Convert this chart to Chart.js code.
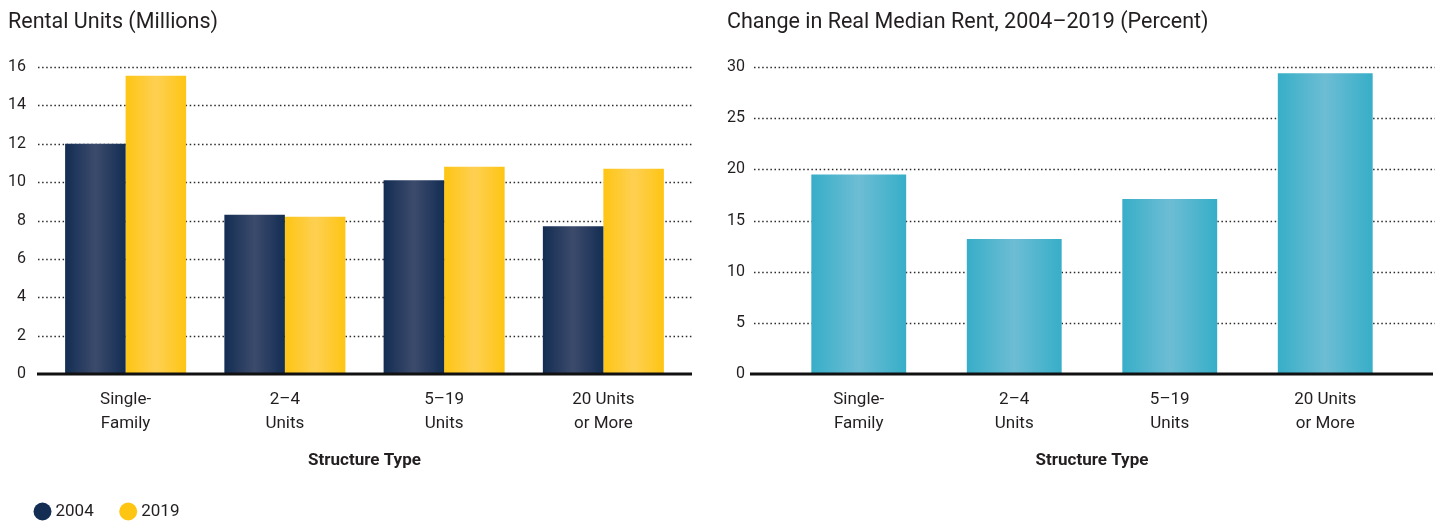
<!DOCTYPE html>
<html>
<head>
<meta charset="utf-8">
<title>Rental Units and Real Median Rent by Structure Type</title>
<script src="https://cdn.jsdelivr.net/npm/chart.js@4.4.1/dist/chart.umd.min.js"></script>
<style>
  body { margin: 0; background: #fff; width: 1443px; height: 521px; overflow: hidden; position: relative; }
  .panel { position: absolute; top: 0; height: 530px; }
  #leftPanel { left: 0; width: 720px; }
  #rightPanel { left: 720px; width: 723px; }
</style>
</head>
<body>
<div class="panel" id="leftPanel"><canvas id="unitsCanvas"></canvas></div>
<div class="panel" id="rightPanel"><canvas id="rentCanvas"></canvas></div>
<script>
// chart data
const structureTypes = [['Single-', 'Family'], ['2–4', 'Units'], ['5–19', 'Units'], ['20 Units', 'or More']];
const seriesNames = ['2004', '2019'];
const units2004 = [12.0, 8.3, 10.1, 7.7];
const units2019 = [15.55, 8.2, 10.8, 10.7];
const rentChange = [19.5, 13.2, 17.1, 29.4];
const unitsTicks = [0, 2, 4, 6, 8, 10, 12, 14, 16];
const rentTicks = [0, 5, 10, 15, 20, 25, 30];

const FONT = 'Roboto, "Noto Sans", sans-serif';
const TEXT = '#231f20';
const LEGEND_PAD = 30;
const LEGEND_FONT = 17;

// bars have a soft highlight down the middle
function sheen(edge, mid) {
  return function(context) {
    const el = context.element;
    if (!el || el.x === undefined || !el.width) return edge;
    const g = context.chart.ctx.createLinearGradient(el.x - el.width / 2, 0, el.x + el.width / 2, 0);
    g.addColorStop(0, edge);
    g.addColorStop(0.5, mid);
    g.addColorStop(1, edge);
    return g;
  };
}

// dotted gridlines that run a little past the bars, plus a heavy zero line
const dottedGrid = {
  id: 'dottedGrid',
  beforeDatasetsDraw(chart, args, opts) {
    const { ctx, chartArea, scales: { y } } = chart;
    ctx.save();
    ctx.strokeStyle = '#2a2a2a';
    ctx.lineWidth = 1.5;
    ctx.setLineDash([1.5, 2.6]);
    y.ticks.forEach(t => {
      if (t.value === 0) return;
      const py = Math.round(y.getPixelForValue(t.value)) + 0.5;
      ctx.beginPath();
      ctx.moveTo(chartArea.left - opts.left, py);
      ctx.lineTo(chartArea.right + opts.right, py);
      ctx.stroke();
    });
    ctx.restore();
  },
  afterDatasetsDraw(chart, args, opts) {
    const { ctx, chartArea, scales: { y } } = chart;
    const py = y.getPixelForValue(0);
    ctx.save();
    ctx.strokeStyle = '#111';
    ctx.lineWidth = 3;
    ctx.beginPath();
    ctx.moveTo(chartArea.left - opts.baseLeft, py);
    ctx.lineTo(chartArea.right + opts.baseRight, py);
    ctx.stroke();
    ctx.restore();
  }
};

function xAxis() {
  return {
    grid: { display: false, drawTicks: false, tickLength: 0 },
    border: { display: false },
    ticks: {
      color: TEXT,
      padding: 14,
      maxRotation: 0,
      autoSkip: false,
      font: { family: FONT, size: 17, lineHeight: '24px' }
    },
    title: {
      display: true,
      text: 'Structure Type',
      color: TEXT,
      padding: { top: 0.8, bottom: 1.8 },
      font: { family: FONT, size: 17, weight: 'bold', lineHeight: 1.2 }
    }
  };
}

function yAxis(tickValues, width, pad) {
  return {
    min: tickValues[0],
    max: tickValues[tickValues.length - 1],
    grid: { display: false, drawTicks: false, tickLength: 0 },
    border: { display: false },
    afterBuildTicks(scale) { scale.ticks = tickValues.map(v => ({ value: v })); },
    afterFit(scale) { scale.width = width; },
    ticks: {
      color: TEXT,
      padding: pad,
      font: { family: FONT, size: 16, lineHeight: 1.2 }
    }
  };
}

function chartTitle(text) {
  return {
    display: true,
    text: text,
    align: 'start',
    color: TEXT,
    padding: { top: 10.1, bottom: 31.1 },
    font: { family: FONT, size: 21.5, weight: 'normal', lineHeight: 1.2 }
  };
}

const unitsChart = new Chart(document.getElementById('unitsCanvas').getContext('2d'), {
  type: 'bar',
  data: {
    labels: structureTypes,
    datasets: [{
      label: seriesNames[0],
      data: units2004,
      backgroundColor: sheen('#132d53', '#3c4b6c'),
      legendColor: '#132d53'
    }, {
      label: seriesNames[1],
      data: units2019,
      backgroundColor: sheen('#fec513', '#fed052'),
      legendColor: '#fec513'
    }]
  },
  options: {
    responsive: true,
    maintainAspectRatio: false,
    animation: false,
    datasets: { bar: { barPercentage: 1, categoryPercentage: 0.76 } },
    layout: { padding: { left: 8, right: 37, top: 0, bottom: 0 } },
    scales: { x: xAxis(), y: yAxis(unitsTicks, 38, 20) },
    plugins: {
      tooltip: { enabled: false },
      title: chartTitle('Rental Units (Millions)'),
      legend: {
        display: true,
        position: 'bottom',
        align: 'start',
        labels: {
          usePointStyle: true,
          pointStyle: 'circle',
          boxWidth: 9,
          boxHeight: 12.7,
          padding: LEGEND_PAD,
          color: TEXT,
          font: { family: FONT, size: LEGEND_FONT },
          generateLabels(chart) {
            return chart.data.datasets.map((ds, i) => ({
              text: ds.label,
              fillStyle: ds.legendColor,
              strokeStyle: ds.legendColor,
              lineWidth: 0,
              pointStyle: 'circle',
              fontColor: TEXT,
              datasetIndex: i
            }));
          }
        }
      },
      dottedGrid: { left: 8, right: 9, baseLeft: 9, baseRight: 9 }
    }
  },
  plugins: [dottedGrid]
});

const rentChart = new Chart(document.getElementById('rentCanvas').getContext('2d'), {
  type: 'bar',
  data: {
    labels: structureTypes,
    datasets: [{
      label: 'Change in Real Median Rent',
      data: rentChange,
      backgroundColor: sheen('#37aec8', '#6dbdd4')
    }]
  },
  options: {
    responsive: true,
    maintainAspectRatio: false,
    animation: false,
    datasets: { bar: { barPercentage: 1, categoryPercentage: 0.61 } },
    // same bottom room as the legend on the left so both plots line up
    layout: { padding: { left: 7, right: 40, top: 0, bottom: LEGEND_FONT + LEGEND_PAD + 10 } },
    scales: { x: xAxis(), y: yAxis(rentTicks, 54, 36) },
    plugins: {
      tooltip: { enabled: false },
      legend: { display: false },
      title: chartTitle('Change in Real Median Rent, 2004–2019 (Percent)'),
      dottedGrid: { left: 27, right: 32, baseLeft: 31, baseRight: 30 }
    }
  },
  plugins: [dottedGrid]
});

// second pass so the gradients can use the laid-out bar positions
unitsChart.update('none');
rentChart.update('none');
</script>
</body>
</html>
